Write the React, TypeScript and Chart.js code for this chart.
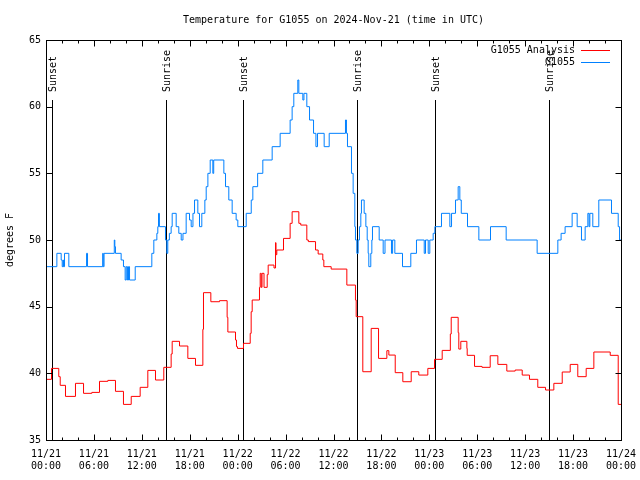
import React, { useEffect, useRef } from 'react';
import { Chart, registerables } from 'chart.js';

Chart.register(...registerables);

const FONT = "'DejaVu Sans Mono', monospace";

const TITLE = 'Temperature for G1055 on 2024-Nov-21 (time in UTC)';
const Y_LABEL = 'degrees F';

// x values are hours since 2024-11-21 00:00 UTC
const xTickDates = ['11/21', '11/21', '11/21', '11/21', '11/22', '11/22', '11/22', '11/22', '11/23', '11/23', '11/23', '11/23', '11/24'];
const xTickTimes = ['00:00', '06:00', '12:00', '18:00', '00:00', '06:00', '12:00', '18:00', '00:00', '06:00', '12:00', '18:00', '00:00'];

const sunEventHours = [0.73, 15.0, 24.65, 38.92, 48.68, 62.96];
const sunEventLabels = ['Sunset', 'Sunrise', 'Sunset', 'Sunrise', 'Sunset', 'Sunrise'];

// [hour, °F] step points for the analysis series
const analysisSeries: [number, number][] = [
  [0, 39.55], [0.69, 40.37], [1.6, 39.75], [1.78, 39.1], [2.44, 38.27], [3.69, 39.25], [4.7, 38.5], [5.74, 38.57],
  [6.7, 39.4], [7.74, 39.47], [8.7, 38.65], [9.7, 37.67], [10.67, 38.27], [11.79, 38.95], [12.75, 40.22], [13.71, 39.5],
  [14.75, 40.45], [15.67, 41.45], [15.8, 42.4], [16.72, 42.05], [17.76, 41.12], [18.72, 40.6], [19.64, 43.3], [19.72, 46.05],
  [20.64, 45.37], [21.73, 45.45], [22.68, 44.2], [22.77, 43.1], [23.73, 42.5], [23.85, 42.0], [23.98, 41.87], [24.73, 42.25],
  [25.57, 43.0], [25.69, 44.62], [25.82, 45.5], [26.73, 46.45], [26.82, 47.5], [26.95, 46.45], [27.05, 47.5], [27.3, 46.45],
  [27.7, 47.4], [27.82, 48.12], [28.55, 47.9], [28.74, 49.8], [28.8, 48.9], [28.9, 49.25], [29.74, 50.12], [30.57, 51.25],
  [30.82, 52.12], [31.66, 51.25], [31.9, 51.12], [32.66, 50.0], [32.85, 49.88], [33.75, 49.25], [34.08, 48.95], [34.66, 48.5],
  [34.79, 48.0], [35.71, 47.82], [37.67, 46.62], [38.75, 45.5], [38.84, 44.25], [39.67, 40.12], [40.72, 43.37], [41.64, 41.12],
  [42.68, 41.7], [42.93, 41.37], [43.73, 40.05], [44.68, 39.37], [45.73, 40.12], [46.68, 39.87], [47.81, 40.37], [48.65, 41.05],
  [49.61, 41.72], [50.63, 42.95], [50.74, 44.2], [51.61, 43.05], [51.69, 41.82], [51.94, 42.4], [52.7, 41.87], [52.74, 41.35],
  [53.66, 40.52], [54.6, 40.45], [55.62, 41.32], [56.58, 40.67], [57.7, 40.17], [58.75, 40.25], [59.63, 39.87], [60.54, 39.55],
  [61.58, 38.95], [62.55, 38.75], [63.59, 39.25], [64.64, 40.1], [65.64, 40.67], [66.59, 39.75], [67.64, 40.37], [68.6, 41.6],
  [70.65, 41.35], [71.65, 37.67], [72, 37.67],
];

// [hour, °F] step points for the observed series
const observedSeries: [number, number][] = [
  [0, 48], [1.36, 49], [1.9, 48.5], [2.03, 48], [2.15, 48.5], [2.2, 48], [2.32, 49], [2.86, 48], [5.08, 49], [5.2, 48],
  [7.1, 49], [7.17, 48], [7.27, 49], [8.55, 50], [8.62, 49.5], [8.7, 49], [9.41, 48.5], [9.7, 48], [9.91, 47], [10.05, 48],
  [10.2, 47], [10.33, 48], [10.46, 47], [11.17, 48], [13.25, 49], [13.5, 50], [13.88, 50.5], [14.0, 51], [14.09, 52], [14.2, 51],
  [14.96, 50], [15.13, 49], [15.25, 50], [15.45, 50.5], [15.67, 51], [15.8, 52], [16.3, 51], [16.63, 50.5], [16.93, 50], [17.15, 50.5],
  [17.55, 52], [17.97, 51.5], [18.18, 51], [18.4, 52], [18.6, 53], [19.01, 52], [19.22, 51], [19.51, 52], [19.89, 53], [20.06, 54],
  [20.27, 55], [20.56, 56], [20.89, 55], [21.0, 56], [22.27, 55], [22.48, 54], [22.89, 53], [23.31, 52], [23.81, 51.5], [24.02, 51],
  [25.07, 52], [25.7, 53], [25.9, 54], [26.5, 55], [27.15, 56], [28.32, 57], [29.32, 58], [30.57, 59], [30.82, 60], [31.03, 61],
  [31.53, 62], [31.66, 61], [32.16, 60.5], [32.3, 61], [32.66, 60], [33.0, 59], [33.5, 58], [33.8, 57], [34.0, 58], [34.83, 57],
  [35.46, 58], [37.5, 59], [37.62, 58], [37.75, 57], [38.25, 55], [38.46, 53.5], [38.67, 51], [38.75, 50], [38.92, 49], [39.09, 50],
  [39.25, 51], [39.42, 52], [39.5, 53], [39.84, 52], [40.05, 51], [40.22, 50], [40.34, 49], [40.42, 48], [40.67, 49], [40.8, 50],
  [40.88, 51], [41.72, 50], [42.22, 49], [42.45, 50], [43.26, 49], [43.4, 50], [43.68, 49], [44.64, 48], [45.68, 49], [46.39, 50],
  [47.36, 49], [47.52, 50], [47.86, 49], [48.06, 50], [48.48, 50.5], [48.69, 51], [49.52, 52], [50.57, 51], [50.78, 52], [51.28, 53],
  [51.61, 54], [51.82, 53], [52.0, 52], [52.78, 51], [54.2, 50], [55.66, 51], [57.62, 50], [61.5, 49], [64.09, 50], [64.5, 50.5],
  [65.0, 51], [65.88, 52], [66.51, 51], [67.05, 50], [67.51, 51], [67.85, 52], [68.0, 51], [68.1, 52], [68.47, 51], [69.22, 53],
  [70.81, 52], [71.65, 51], [71.82, 50], [72, 50],
];

const gnuplotFrame = {
  id: 'gnuplotFrame',
  beforeDatasetsDraw(chart: any) {
    const { ctx, chartArea, scales } = chart;
    const xs = scales.x;
    const lineTop = chartArea.top + 60;
    ctx.save();
    ctx.strokeStyle = '#000';
    ctx.lineWidth = 1;
    sunEventHours.forEach((h) => {
      const px = Math.round(xs.getPixelForValue(h)) + 0.5;
      ctx.beginPath();
      ctx.moveTo(px, lineTop);
      ctx.lineTo(px, chartArea.bottom);
      ctx.stroke();
    });
    ctx.restore();
  },
  afterDraw(chart: any) {
    const { ctx, chartArea, scales } = chart;
    const xs = scales.x;
    const ys = scales.y;
    const L = chartArea.left + 0.5;
    const R = chartArea.right + 0.5;
    const T = chartArea.top + 0.5;
    const B = chartArea.bottom + 0.5;
    ctx.save();
    ctx.strokeStyle = '#000';
    ctx.lineWidth = 1;
    ctx.strokeRect(L, T, R - L, B - T);
    ctx.beginPath();
    for (let h = 0; h <= 72; h += 2) {
      const px = Math.round(xs.getPixelForValue(h)) + 0.5;
      const len = h % 6 === 0 ? 6 : 3;
      ctx.moveTo(px, B);
      ctx.lineTo(px, B - len);
      ctx.moveTo(px, T);
      ctx.lineTo(px, T + len);
    }
    for (let v = 35; v <= 65; v += 5) {
      const py = Math.round(ys.getPixelForValue(v)) + 0.5;
      ctx.moveTo(L, py);
      ctx.lineTo(L + 6, py);
      ctx.moveTo(R, py);
      ctx.lineTo(R - 6, py);
    }
    ctx.stroke();

    // sunrise / sunset labels
    ctx.fillStyle = '#000';
    ctx.font = `10px ${FONT}`;
    ctx.textAlign = 'left';
    ctx.textBaseline = 'middle';
    sunEventHours.forEach((h, i) => {
      const px = Math.round(xs.getPixelForValue(h)) + 1.5;
      ctx.save();
      ctx.translate(px, chartArea.top + 52);
      ctx.rotate(-Math.PI / 2);
      ctx.fillText(sunEventLabels[i], 0, 0);
      ctx.restore();
    });

    // legend
    chart.data.datasets.forEach((ds: any, i: number) => {
      const y = chartArea.top + 10 + i * 12;
      ctx.textAlign = 'right';
      ctx.fillStyle = '#000';
      ctx.fillText(ds.label, chartArea.right - 46, y);
      ctx.strokeStyle = ds.borderColor;
      ctx.beginPath();
      ctx.moveTo(chartArea.right - 40, Math.round(y) + 0.5);
      ctx.lineTo(chartArea.right - 11, Math.round(y) + 0.5);
      ctx.stroke();
    });
    ctx.restore();
  },
};

export default function App() {
  const ref = useRef<HTMLCanvasElement>(null);
  useEffect(() => {
    const canvas = ref.current;
    if (!canvas) return;
    const font = { family: FONT, size: 10, weight: 'normal' as const };
    const chart = new Chart(canvas, {
      type: 'line',
      data: {
        datasets: [
          {
            label: 'G1055 Analysis',
            data: analysisSeries.map(([x, y]) => ({ x, y })),
            borderColor: '#ff0000',
            borderWidth: 1,
            pointRadius: 0,
            stepped: true,
            fill: false,
          },
          {
            label: 'G1055',
            data: observedSeries.map(([x, y]) => ({ x, y })),
            borderColor: '#0080ff',
            borderWidth: 1,
            pointRadius: 0,
            stepped: true,
            fill: false,
          },
        ],
      },
      options: {
        animation: false,
        responsive: false,
        devicePixelRatio: 1,
        layout: { padding: { left: 0, right: 19, top: 0, bottom: 0 } },
        plugins: {
          legend: { display: false },
          tooltip: { enabled: false },
          title: {
            display: true,
            text: TITLE,
            fullSize: false,
            color: '#000',
            font,
            padding: { top: 14, bottom: 14 },
          },
        },
        scales: {
          x: {
            type: 'linear',
            min: 0,
            max: 72,
            grid: { display: false, drawTicks: false },
            border: { display: false },
            ticks: {
              stepSize: 6,
              autoSkip: false,
              maxRotation: 0,
              padding: 8,
              color: '#000',
              font,
              callback: (v: any) => {
                const i = Math.round(Number(v) / 6);
                return [xTickDates[i], xTickTimes[i]];
              },
            },
            afterFit: (s: any) => {
              s.height = 40;
              s.paddingLeft = 0;
              s.paddingRight = 0;
            },
          },
          y: {
            type: 'linear',
            min: 35,
            max: 65,
            grid: { display: false, drawTicks: false },
            border: { display: false },
            ticks: { stepSize: 5, padding: 5, color: '#000', font },
            title: { display: true, text: Y_LABEL, color: '#000', font, padding: { top: 4, bottom: 0 } },
            afterFit: (s: any) => {
              s.width = 46;
              s.paddingTop = 0;
              s.paddingBottom = 0;
            },
          },
        },
      },
      plugins: [gnuplotFrame],
    });
    return () => chart.destroy();
  }, []);

  return (
    <div style={{ position: 'absolute', left: 0, top: 0, width: 640, height: 480, background: '#fff' }}>
      <canvas ref={ref} width={640} height={480} style={{ width: 640, height: 480, display: 'block' }} />
    </div>
  );
}
